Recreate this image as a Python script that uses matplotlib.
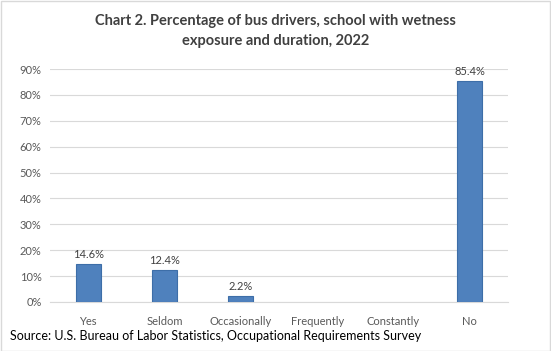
import matplotlib.pyplot as plt
from matplotlib.patches import Rectangle

categories = ["Yes", "Seldom", "Occasionally", "Frequently", "Constantly", "No"]
values = [14.6, 12.4, 2.2, None, None, 85.4]
yticks = [0, 10, 20, 30, 40, 50, 60, 70, 80, 90]

plt.rcParams['font.family'] = ['Lato', 'DejaVu Sans']
gray = '#595959'

fig = plt.figure(figsize=(5.51, 3.51), dpi=100)
ax = fig.add_axes([50 / 551, 1 - 302 / 351, 458 / 551, 233 / 351])

xs = list(range(len(categories)))
bx = [x for x, v in zip(xs, values) if v is not None]
bv = [v for v in values if v is not None]
ax.bar(bx, bv, width=0.33, color='#4f81bd', edgecolor='#3d6ea8', linewidth=0.8, zorder=3)
for x, v in zip(bx, bv):
    ax.text(x, v + 1.5, f"{v}%", ha='center', va='bottom', fontsize=8, color='#404040')

ax.set_xlim(-0.5, len(categories) - 0.5)
ax.set_ylim(0, 90)
ax.set_yticks(yticks)
ax.set_yticklabels([f"{t}%" for t in yticks], fontsize=8, color=gray)
ax.set_xticks(xs)
ax.set_xticklabels(categories, fontsize=8, color=gray)
ax.tick_params(length=0, pad=6)
ax.tick_params(axis='x', pad=10)
ax.grid(axis='y', color='#d9d9d9', linewidth=0.8, zorder=0)
for s in ['top', 'right', 'left']:
    ax.spines[s].set_visible(False)
ax.spines['bottom'].set_color('#d9d9d9')

fig.text(0.5, 1 - 31 / 351, "Chart 2. Percentage of bus drivers, school with wetness\nexposure and duration, 2022",
         ha='center', va='center', fontsize=10.5, fontweight='bold', color='#404040', linespacing=1.55)
fig.text(10 / 551, 1 - 336 / 351, "Source: U.S. Bureau of Labor Statistics, Occupational Requirements Survey",
         ha='left', va='center', fontsize=9, color='black')

fig.patches.append(Rectangle((0.001, 0.001), 0.997, 0.997, transform=fig.transFigure,
                             fill=False, edgecolor='#d9d9d9', linewidth=1))

fig.savefig('out.png', dpi=100)
